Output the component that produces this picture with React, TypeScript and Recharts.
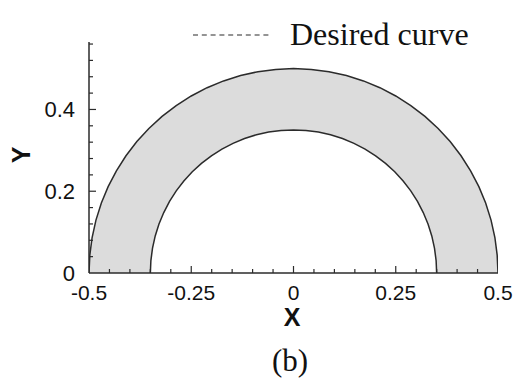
import { ComposedChart, Area, XAxis, YAxis } from "recharts";

// outer boundary of the ring (r = 0.5), read every 5 degrees from left to right
const outerX = [
  -0.5, -0.498, -0.4924, -0.483, -0.4698, -0.4532, -0.433, -0.4096, -0.383, -0.3536,
  -0.3214, -0.2868, -0.25, -0.2113, -0.171, -0.1294, -0.0868, -0.0436, 0,
  0.0436, 0.0868, 0.1294, 0.171, 0.2113, 0.25, 0.2868, 0.3214, 0.3536,
  0.383, 0.4096, 0.433, 0.4532, 0.4698, 0.483, 0.4924, 0.498, 0.5,
];
const outerY = [
  0, 0.0436, 0.0868, 0.1294, 0.171, 0.2113, 0.25, 0.2868, 0.3214, 0.3536,
  0.383, 0.4096, 0.433, 0.4532, 0.4698, 0.483, 0.4924, 0.498, 0.5,
  0.498, 0.4924, 0.483, 0.4698, 0.4532, 0.433, 0.4096, 0.383, 0.3536,
  0.3214, 0.2868, 0.25, 0.2113, 0.171, 0.1294, 0.0868, 0.0436, 0,
];

// inner boundary (r = 0.35)
const innerX = [
  -0.35, -0.3487, -0.3447, -0.3381, -0.3289, -0.3172, -0.3031, -0.2867, -0.2681, -0.2475,
  -0.225, -0.2008, -0.175, -0.1479, -0.1197, -0.0906, -0.0608, -0.0305, 0,
  0.0305, 0.0608, 0.0906, 0.1197, 0.1479, 0.175, 0.2008, 0.225, 0.2475,
  0.2681, 0.2867, 0.3031, 0.3172, 0.3289, 0.3381, 0.3447, 0.3487, 0.35,
];
const innerY = [
  0, 0.0305, 0.0608, 0.0906, 0.1197, 0.1479, 0.175, 0.2008, 0.225, 0.2475,
  0.2681, 0.2867, 0.3031, 0.3172, 0.3289, 0.3381, 0.3447, 0.3487, 0.35,
  0.3487, 0.3447, 0.3381, 0.3289, 0.3172, 0.3031, 0.2867, 0.2681, 0.2475,
  0.225, 0.2008, 0.175, 0.1479, 0.1197, 0.0906, 0.0608, 0.0305, 0,
];

const xTicks = [
  -0.5, -0.45, -0.4, -0.35, -0.3, -0.25, -0.2, -0.15, -0.1, -0.05, 0,
  0.05, 0.1, 0.15, 0.2, 0.25, 0.3, 0.35, 0.4, 0.45, 0.5,
];
const xLabels = [-0.5, -0.25, 0, 0.25, 0.5];
const yTicks = [0, 0.04, 0.08, 0.12, 0.16, 0.2, 0.24, 0.28, 0.32, 0.36, 0.4, 0.44, 0.48, 0.52, 0.56];
const yLabels = [0, 0.2, 0.4];
const legendLabel = "Desired curve";

const outer = outerX.map((x, i) => ({ x, y: outerY[i] }));
const inner = innerX.map((x, i) => ({ x, y: innerY[i] }));

const INK = "#2b2b2b";
const SANS = "'Liberation Sans', Arial, sans-serif";
const SERIF = "'Liberation Serif', 'Times New Roman', serif";

const isMajor = (v: number, list: number[]) => list.some((m) => Math.abs(m - v) < 1e-6);

function XTick(props: any) {
  const { x, y, payload } = props;
  const major = isMajor(payload.value, xLabels);
  const inside = Math.abs(payload.value) < 0.49;
  return (
    <g>
      {inside && <line x1={x} x2={x} y1={y} y2={y - (major ? 7 : 4)} stroke={INK} strokeWidth={1.2} />}
      {major && (
        <text x={x} y={y + 27} textAnchor="middle" fontFamily={SANS} fontSize={21} fill="#111">
          {String(payload.value)}
        </text>
      )}
    </g>
  );
}

function YTick(props: any) {
  const { x, y, payload } = props;
  const major = isMajor(payload.value, yLabels);
  return (
    <g>
      {payload.value > 0 && (
        <line x1={x} x2={x + (major ? 7 : 4)} y1={y} y2={y} stroke={INK} strokeWidth={1.2} />
      )}
      {major && (
        <text x={x - 14} y={y + 8} textAnchor="end" fontFamily={SANS} fontSize={22} fill="#111">
          {String(payload.value)}
        </text>
      )}
    </g>
  );
}

export default function App() {
  return (
    <div style={{ position: "absolute", left: 0, top: 0, width: 522, height: 382, background: "#fff" }}>
      <ComposedChart width={522} height={382} margin={{ top: 42, right: 24, bottom: 0, left: 0 }}>
        <XAxis
          type="number"
          dataKey="x"
          domain={[-0.5, 0.5]}
          ticks={xTicks}
          interval={0}
          tickSize={0}
          tickMargin={0}
          tickLine={false}
          tick={<XTick />}
          axisLine={{ stroke: INK, strokeWidth: 1.5 }}
          height={109}
          allowDataOverflow
        />
        <YAxis
          type="number"
          dataKey="y"
          domain={[0, 0.565]}
          ticks={yTicks}
          interval={0}
          tickSize={0}
          tickMargin={0}
          tickLine={false}
          tick={<YTick />}
          axisLine={{ stroke: INK, strokeWidth: 1.5 }}
          width={89}
          allowDataOverflow
        />
        <Area
          data={outer}
          dataKey="y"
          type="linear"
          stroke={INK}
          strokeWidth={1.5}
          fill="#dcdcdc"
          fillOpacity={1}
          isAnimationActive={false}
          name={legendLabel}
        />
        <Area
          data={inner}
          dataKey="y"
          type="linear"
          stroke={INK}
          strokeWidth={1.5}
          fill="#ffffff"
          fillOpacity={1}
          isAnimationActive={false}
          name="inner"
        />
        {/* legend */}
        <line x1={193} x2={272} y1={35} y2={35} stroke={INK} strokeWidth={1.2} strokeDasharray="5 3.8" />
        <text x={290} y={45} fontFamily={SERIF} fontSize={32} fill="#111">
          {legendLabel}
        </text>
        <text x={292} y={326} textAnchor="middle" fontFamily={SANS} fontWeight="bold" fontSize={25} fill="#111">
          X
        </text>
        <text
          x={30}
          y={155}
          textAnchor="middle"
          transform="rotate(-90 30 155)"
          fontFamily={SANS}
          fontWeight="bold"
          fontSize={25}
          fill="#111"
        >
          Y
        </text>
        <text x={290} y={371} textAnchor="middle" fontFamily={SERIF} fontSize={31} fill="#111">
          (b)
        </text>
      </ComposedChart>
    </div>
  );
}
